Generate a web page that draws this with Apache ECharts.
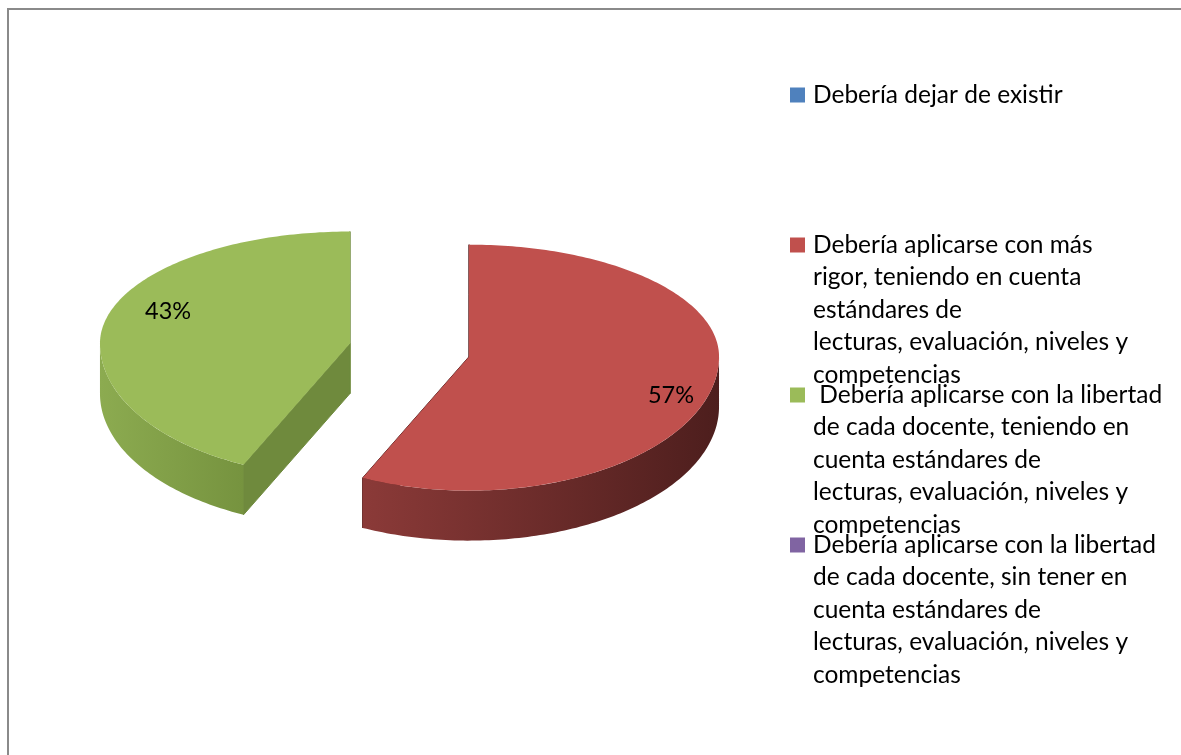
<!DOCTYPE html>
<html>
<head>
<meta charset="utf-8">
<script src="https://cdn.jsdelivr.net/npm/echarts@6/dist/echarts.min.js"></script>
<style>
  html, body { margin: 0; padding: 0; background: #fff; }
  #main { width: 1181px; height: 755px; }
</style>
</head>
<body>
<div id="main"></div>
<script>
// categories, wrapped legend lines, values (percent)
const categories = [
  'Debería dejar de existir',
  'Debería aplicarse con más rigor, teniendo en cuenta estándares de lecturas, evaluación, niveles y competencias',
  ' Debería aplicarse con la libertad de cada docente, teniendo en cuenta estándares de lecturas, evaluación, niveles y competencias',
  'Debería aplicarse con la libertad de cada docente, sin tener en cuenta estándares de lecturas, evaluación, niveles y competencias'
]
const legendLines = [
  ['Debería dejar de existir'],
  ['Debería aplicarse con más', 'rigor, teniendo en cuenta', 'estándares de', 'lecturas, evaluación, niveles y', 'competencias'],
  [' Debería aplicarse con la libertad', 'de cada docente, teniendo en', 'cuenta estándares de', 'lecturas, evaluación, niveles y', 'competencias'],
  ['Debería aplicarse con la libertad', 'de cada docente, sin tener en', 'cuenta estándares de', 'lecturas, evaluación, niveles y', 'competencias']
]
const values = [0, 57, 43, 0]

const colors = ['#4F81BD', '#C0504D', '#9BBB59', '#8064A2']
const wallColors = [['#3B6190', '#223A57'], ['#8B3A38', '#4D1E1D'], ['#8CAB50', '#76933F'], ['#604B7A', '#3A2D4A']]
const cutColors = ['#2F4D73', '#5A2322', '#6F8A3D', '#4C3C61']

const font = 'Lato, "Open Sans", sans-serif'
const lineH = 32.5
const iconCenters = [95, 245, 395, 545]

// 3d pie geometry (perspective faked with a taller front half)
const pie = { cx: 409.5, cy: 349.5, rx: 250, ryTop: 112, ryBottom: 134, depth: 50, explode: 61 }

const total = values.reduce((a, b) => a + b, 0)
const starts = []
let acc = 0
values.forEach(v => { starts.push(acc / total * 360); acc += v })

function rim(c, deg, dy) {
  const t = deg * Math.PI / 180
  const cs = Math.cos(t)
  const ry = cs > 0 ? pie.ryTop : pie.ryBottom
  return [c[0] + pie.rx * Math.sin(t), c[1] - ry * cs + (dy || 0)]
}

function arc(c, a0, a1, dy) {
  const pts = []
  const n = Math.max(2, Math.ceil(Math.abs(a1 - a0)))
  for (let i = 0; i <= n; i++) pts.push(rim(c, a0 + (a1 - a0) * i / n, dy))
  return pts
}

function renderSlice(idx) {
  return function (params, api) {
    const v = api.value(0)
    if (!v) return null
    const a0 = starts[idx]
    const a1 = a0 + v / total * 360
    const mid = (a0 + a1) / 2
    const m = mid * Math.PI / 180
    const k = Math.cos(m) > 0 ? pie.ryTop / pie.rx : pie.ryBottom / pie.rx
    const c = [pie.cx + pie.explode * Math.sin(m), pie.cy - pie.explode * Math.cos(m) * k]
    const d = pie.depth
    const children = []
    // cut faces
    ;[a0, a1].forEach(a => {
      const p = rim(c, a)
      children.push({
        type: 'polygon',
        shape: { points: [c, p, [p[0], p[1] + d], [c[0], c[1] + d]] },
        style: { fill: cutColors[idx], stroke: cutColors[idx], lineWidth: 1 }
      })
    })
    // outer wall, front half only
    const w0 = Math.max(a0, 90), w1 = Math.min(a1, 270)
    if (w1 > w0) {
      children.push({
        type: 'polygon',
        shape: { points: arc(c, w0, w1).concat(arc(c, w1, w0, d)) },
        style: {
          fill: new echarts.graphic.LinearGradient(0, 0, 1, 0, [
            { offset: 0, color: wallColors[idx][0] },
            { offset: 1, color: wallColors[idx][1] }
          ])
        }
      })
    }
    // top face
    children.push({
      type: 'polygon',
      shape: { points: [c].concat(arc(c, a0, a1)) },
      style: { fill: api.visual('color') }
    })
    // label
    const la = (mid + 8) * Math.PI / 180
    const lk = Math.cos(la) > 0 ? pie.ryTop : pie.ryBottom
    children.push({
      type: 'text',
      x: c[0] + 0.82 * pie.rx * Math.sin(la) + 10,
      y: c[1] - 0.82 * lk * Math.cos(la),
      style: {
        text: Math.round(v / total * 100) + '%',
        fill: '#000', font: '23.5px ' + font,
        align: 'center', verticalAlign: 'middle'
      }
    })
    return { type: 'group', children }
  }
}

const chart = echarts.init(document.getElementById('main'))
chart.setOption({
  backgroundColor: '#fff',
  animation: false,
  color: colors,
  graphic: [{
    type: 'rect',
    shape: { x: 8, y: 9, width: 1400, height: 1000 },
    style: { fill: 'none', stroke: '#8a8a8a', lineWidth: 2 },
    silent: true
  }],
  legend: categories.map((name, i) => {
    const n = legendLines[i].length
    return {
      data: [name],
      orient: 'vertical',
      left: 790,
      top: iconCenters[i] - (2 * n - 1) * lineH / 2,
      padding: 0,
      icon: 'rect',
      itemWidth: 15,
      itemHeight: 15,
      selectedMode: false,
      // blank lines above keep the first text line level with the icon
      formatter: () => '\n'.repeat(n - 1) + legendLines[i].join('\n'),
      textStyle: {
        fontFamily: font, fontSize: 24.5, color: '#000', lineHeight: lineH,
        padding: [0, 0, 0, 3]
      }
    }
  }),
  series: categories.map((name, i) => ({
    type: 'custom',
    name,
    coordinateSystem: 'none',
    silent: true,
    data: [values[i]],
    itemStyle: { color: colors[i] },
    renderItem: renderSlice(i)
  }))
})
</script>
</body>
</html>
